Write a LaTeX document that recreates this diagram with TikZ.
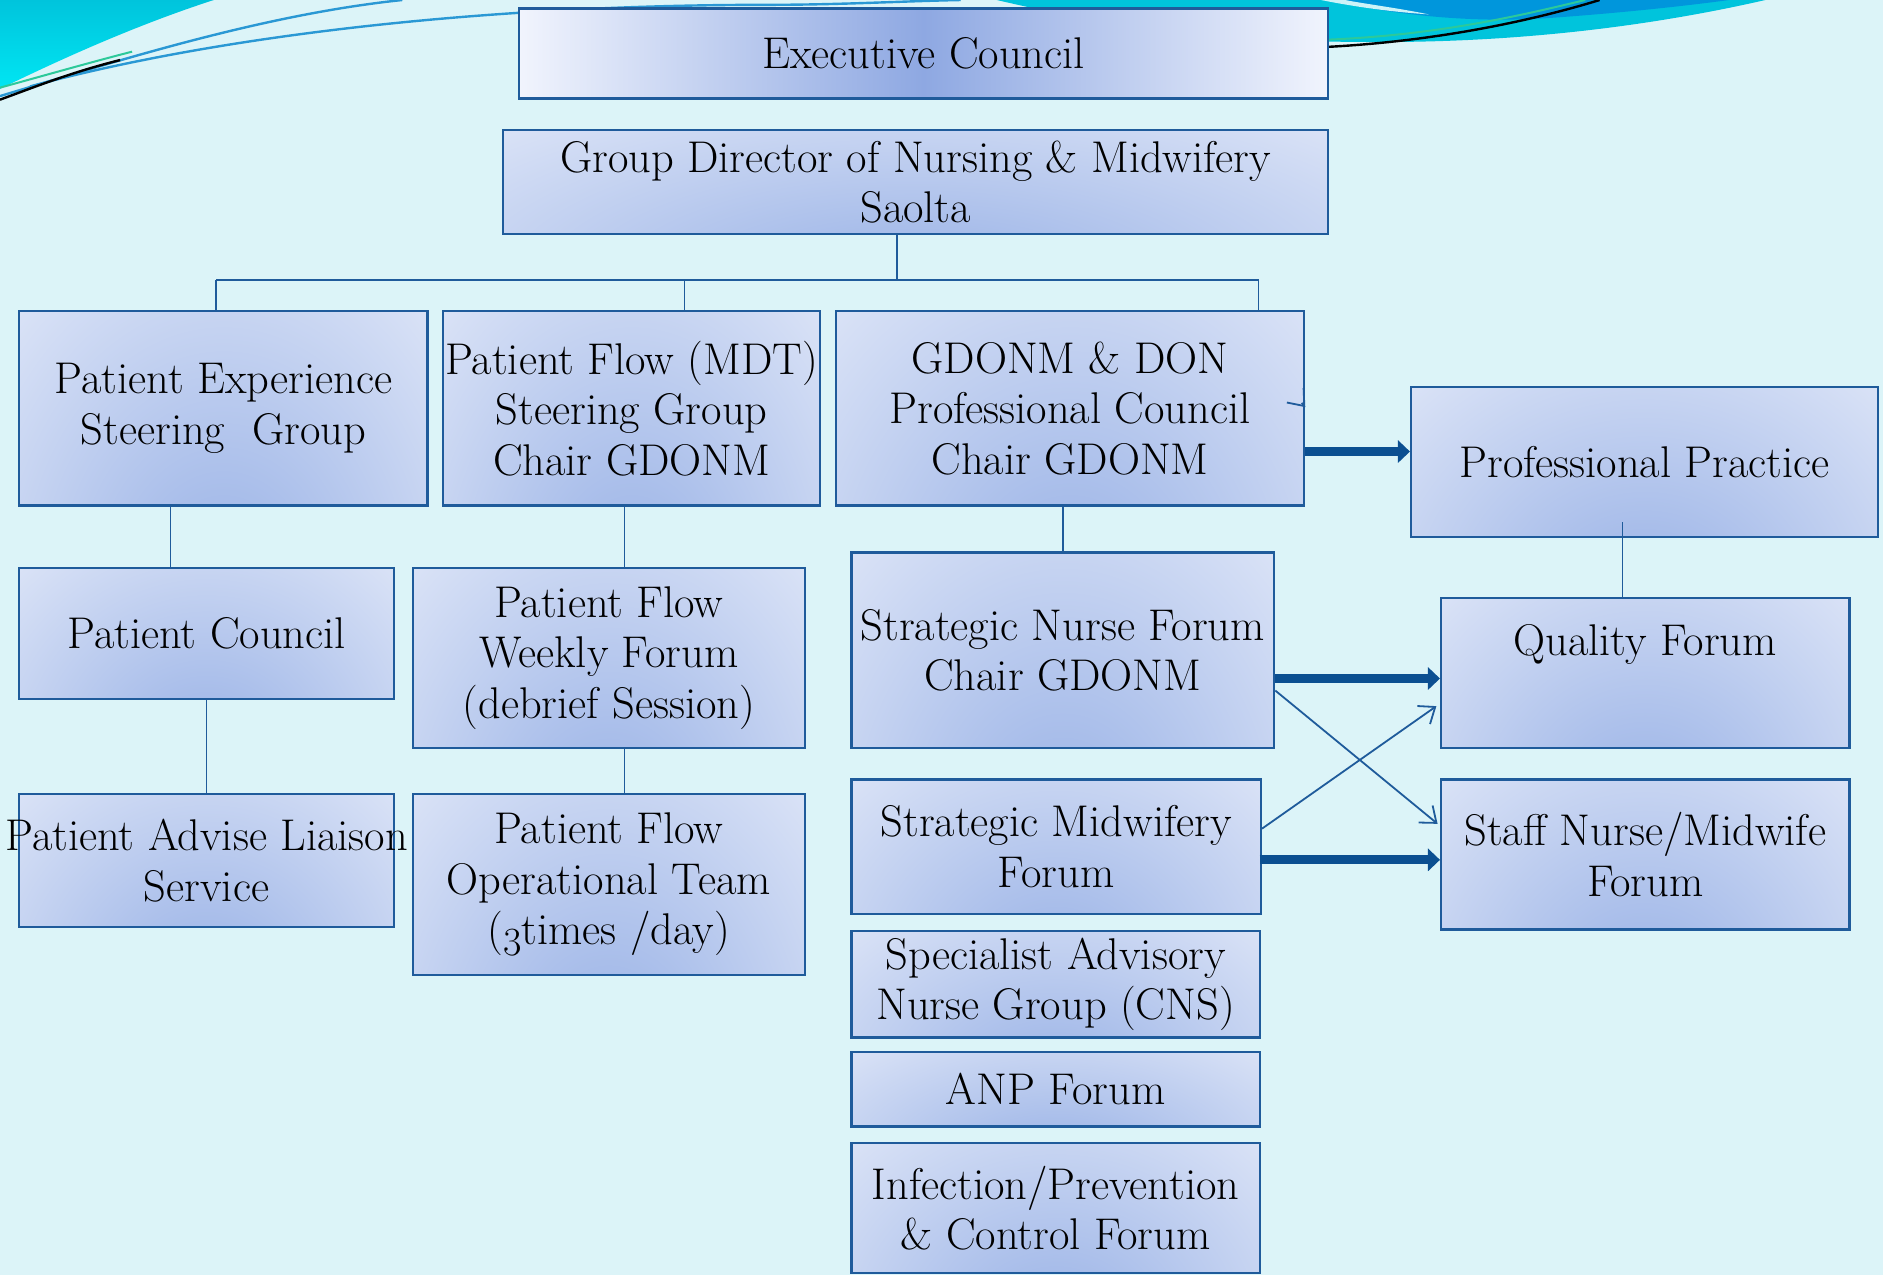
\documentclass[tikz,border=0pt]{standalone}
\usepackage{fontspec}
\usetikzlibrary{arrows.meta,calc}
\definecolor{bg}{HTML}{DCF4F8}
\definecolor{bord}{HTML}{1F5B9B}
\definecolor{thk}{HTML}{0B4F91}
\definecolor{cyanA}{HTML}{00C4DC}
\definecolor{cyanB}{HTML}{00E6F3}
\definecolor{blueD}{HTML}{0096DC}
\definecolor{lineblue}{HTML}{2A98D4}
\definecolor{linegreen}{HTML}{2CC99A}
\definecolor{ecmid}{HTML}{8EA8E2}
\definecolor{ecside}{HTML}{F1F4FD}
\pgfdeclarefunctionalshading{boxfun}{\pgfpoint{-50bp}{-50bp}}{\pgfpoint{50bp}{50bp}}{}{
  50 add 100 div dup mul 0.5 mul
  exch 50 div dup mul add sqrt
  dup 1 gt {pop 1} if
  dup 0.36 mul 0.59 add exch dup 0.27 mul 0.69 add exch 0.09 mul 0.90 add
}
\newcommand{\zl}[1]{\makebox[0pt]{#1}}
\newcommand{\osthree}{\raisebox{-0.24em}{\scalebox{0.9}{3}}}
\begin{document}
\begin{tikzpicture}[x=0.6pt,y=-0.6pt,
  box/.style={draw=bord, line width=1.1pt, shade, shading=boxfun, align=center,
    inner sep=0pt, font=\fontsize{22.2}{25.2}\selectfont},
  sz/.style 2 args={minimum width=#1*0.6pt, minimum height=#2*0.6pt},
  conn/.style={draw=bord, line width=0.9pt},
  bigarrow/.style={draw=thk, line width=4.6pt, -{Triangle[length=6pt,width=11pt]}},
  thinarrow/.style={draw=bord, line width=0.9pt, -{Straight Barb[length=7pt,width=11pt]}}]
\useasboundingbox (0,0) rectangle (1568,1062);
\fill[bg] (0,0) rectangle (1568,1062);
% top decoration
\begin{scope}
\clip (0,0) rectangle (1568,1062);
\shade[top color=cyanA, bottom color=cyanB] (0,0) -- (178,0) .. controls (110,22) and (45,52) .. (0,74) -- cycle;
\fill[cyanA] (830,0) .. controls (950,28) and (1040,35) .. (1150,35) .. controls (1290,35) and (1400,16) .. (1470,0) -- cycle;
\fill[blueD] (1105,0) .. controls (1170,14) and (1230,19) .. (1290,15) .. controls (1360,10) and (1410,4) .. (1440,0) -- cycle;
\fill[white!80!cyanA] (1100,0) .. controls (1130,6) and (1160,10) .. (1190,12) .. controls (1160,6) and (1135,3) .. (1120,0) -- cycle;
\draw[lineblue, line width=1.2pt] (0,80) .. controls (100,50) and (220,12) .. (335,0);
\draw[lineblue, line width=1.2pt] (25,72) .. controls (180,30) and (400,4) .. (640,4) .. controls (700,4) and (750,1) .. (800,0);
\draw[linegreen, line width=1pt] (0,73) .. controls (40,62) and (75,52) .. (110,43);
\draw[black, line width=1.2pt] (0,83) .. controls (30,72) and (60,60) .. (100,50);
\draw[black, line width=1.2pt] (1106,39) .. controls (1200,34) and (1280,16) .. (1332,0);
\draw[linegreen, line width=1pt] (1106,33) .. controls (1200,29) and (1270,12) .. (1320,0);
\end{scope}
% nodes
\node[box, sz={674}{75}, left color=ecside, right color=ecside, middle color=ecmid] (ec) at (769,44.5) {Executive Council};
\node[box, sz={687}{87}] (gd) at (762.5,151.5) {Group Director of Nursing \& Midwifery\\Saolta};
\node[box, sz={340}{162}] (pes) at (186,340) {Patient Experience\\Steering\ \ Group};
\node[box, sz={314}{162}] (pfs) at (526,340) {\zl{Patient Flow (MDT)}\\Steering Group\\Chair GDONM};
\node[box, sz={390}{162}] (gdp) at (891,340) {GDONM \& DON\\Professional Council\\Chair GDONM};
\node[box, sz={389}{125}] (pp) at (1369.5,384.5) {Professional Practice};
\node[box, sz={312}{109}] (pc) at (172,527.5) {Patient Council};
\node[box, sz={326}{150}] (pfw) at (507,548) {Patient Flow\\Weekly Forum\\(debrief Session)};
\node[box, sz={352}{163}] (snf) at (885,541.5) {\zl{Strategic Nurse Forum}\\Chair GDONM};
\node[box, sz={340}{125}] (qf) at (1370,560.5) {Quality Forum\\\strut};
\node[box, sz={312}{111}] (pals) at (172,716.5) {\zl{Patient Advise Liaison}\\Service};
\node[box, sz={326}{151}] (pfo) at (507,736.5) {Patient Flow\\Operational Team\\(\osthree times /day)};
\node[box, sz={341}{112}] (smf) at (879.5,705) {Strategic Midwifery\\Forum};
\node[box, sz={340}{125}] (snm) at (1370,711.5) {Staff Nurse/Midwife\\Forum};
\node[box, sz={340}{89}] (san) at (879,819.5) {Specialist Advisory\\Nurse Group (CNS)};
\node[box, sz={340}{62}] (anp) at (879,907) {ANP Forum};
\node[box, sz={340}{108}] (ipc) at (879,1006) {Infection/Prevention\\\& Control Forum};
% tree connectors
\coordinate (bus) at (747,233);
\coordinate (bL) at (180,233);
\coordinate (bM) at (570,233);
\coordinate (bR) at (1048,233);
\draw[conn] (gd.south -| bus) -- (bus);
\draw[conn] (bL) -- (bR);
\draw[conn] (bL) -- (bL |- pes.north);
\draw[conn] (bM) -- (bM |- pfs.north);
\draw[conn] (bR) -- (bR |- gdp.north);
\coordinate (c1) at (142,0);
\draw[conn] (pes.south -| c1) -- (pc.north -| c1);
\draw[conn] (pc.south) -- (pals.north);
\coordinate (c2) at (520,0);
\draw[conn] (pfs.south -| c2) -- (pfw.north -| c2);
\draw[conn] (pfw.south -| c2) -- (pfo.north -| c2);
\draw[conn] (snf.north |- gdp.south) -- (snf.north);
\coordinate (c3) at (1351,435);
\draw[conn] (c3) -- (qf.north -| c3);
% thick arrows
\coordinate (t1) at ($(gdp.east)+(0,36)$);
\draw[bigarrow] (t1) -- (t1 -| pp.west);
\coordinate (t2) at ($(snf.east)+(0,23.5)$);
\draw[bigarrow] (t2) -- (t2 -| qf.west);
\coordinate (t3) at ($(smf.east)+(-2,11)$);
\draw[bigarrow] (t3) -- (t3 -| snm.west);
% thin crossing arrows
\draw[thinarrow] ($(snf.east)+(0,33.5)$) -- ($(snm.west)+(-2,-25.5)$);
\draw[thinarrow] ($(smf.east)+(0,-15)$) -- ($(qf.west)+(-3,27.5)$);
% small stray arrowhead
\coordinate (sa) at ($(gdp.east)+(0,-1)$);
\draw[thinarrow] ($(sa)+(-3,-3.5)$) -- (sa);
\end{tikzpicture}
\end{document}
